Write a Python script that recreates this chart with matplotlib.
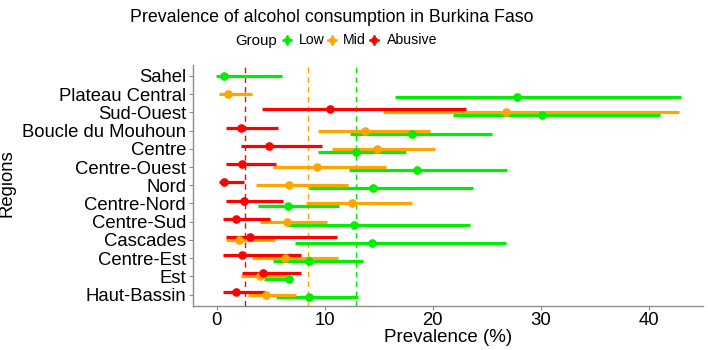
import matplotlib
matplotlib.use("Agg")
import matplotlib.pyplot as plt
from matplotlib.lines import Line2D
from matplotlib import font_manager as fm

regions = ["Sahel", "Plateau Central", "Sud-Ouest", "Boucle du Mouhoun", "Centre",
           "Centre-Ouest", "Nord", "Centre-Nord", "Centre-Sud", "Cascades",
           "Centre-Est", "Est", "Haut-Bassin"]

groups = ["Low", "Mid", "Abusive"]

low_est = [0.7, 27.8, 30.1, 18.1, 12.9, 18.5, 14.5, 6.6, 12.7, 14.4, 8.5, 6.7, 8.5]
low_lo  = [-0.1, 16.5, 21.9, 12.3, 9.4, 12.2, 8.5, 3.8, 6.5, 7.2, 5.2, 4.4, 5.5]
low_hi  = [6.0, 43.0, 41.0, 25.5, 17.5, 26.9, 23.7, 11.3, 23.4, 26.8, 13.5, 7.0, 13.1]

mid_est = [None, 1.0, 26.8, 13.7, 14.8, 9.3, 6.7, 12.5, 6.5, 2.1, 6.3, 4.0, 4.6]
mid_lo  = [None, 0.2, 15.4, 9.4, 10.7, 5.2, 3.6, 8.3, 4.0, 0.9, 3.3, 2.2, 2.9]
mid_hi  = [None, 3.3, 42.8, 19.7, 20.2, 15.7, 12.1, 18.1, 10.2, 5.4, 11.2, 6.5, 7.3]

abu_est = [None, None, 10.5, 2.2, 4.8, 2.3, 0.7, 2.5, 1.8, 3.1, 2.3, 4.3, 1.8]
abu_lo  = [None, None, 4.2, 0.9, 2.2, 0.9, 0.2, 0.9, 0.6, 0.9, 0.6, 2.3, 0.6]
abu_hi  = [None, None, 23.1, 5.7, 9.7, 5.5, 2.5, 6.1, 4.9, 11.1, 7.8, 7.8, 4.5]

ref_lines = {"Low": 12.87, "Mid": 8.4, "Abusive": 2.63}

colors = {"Low": "#00EE00", "Mid": "#FFA500", "Abusive": "#FF0000"}
offsets = {"Low": 0.16, "Mid": 0.0, "Abusive": -0.16}

data = {
    "Low": (low_est, low_lo, low_hi),
    "Mid": (mid_est, mid_lo, mid_hi),
    "Abusive": (abu_est, abu_lo, abu_hi),
}

avail = {f.name for f in fm.fontManager.ttflist}
base = "Liberation Sans" if "Liberation Sans" in avail else "DejaVu Sans"
plt.rcParams["font.family"] = base

fig = plt.figure(figsize=(7.08, 3.5), dpi=100)
ax = fig.add_axes([193/708, 1 - 305.5/350, (703-193)/708, (305.5-65)/350])

n = len(regions)

for g in groups:
    est, lo, hi = data[g]
    for i, r in enumerate(regions):
        if est[i] is None:
            continue
        present = sum(1 for gg in groups if data[gg][0][i] is not None)
        off = offsets[g] if present > 1 else 0.0
        y = i + off
        ax.plot([lo[i], hi[i]], [y, y], color=colors[g], lw=2.3, solid_capstyle="butt", zorder=2)
        ax.plot([est[i]], [y], "o", color=colors[g], ms=5.2, mec=colors[g], zorder=3)

for g in groups:
    ax.axvline(ref_lines[g], color=colors[g], lw=1.0, ls=(0, (4, 3)), zorder=1)

ax.set_ylim(n - 1 + 0.6, -0.6)
ax.set_xlim(-2.2, 45.0)
ax.set_yticks(range(n))
ax.set_yticklabels(regions)
ax.set_xticks([0, 10, 20, 30, 40])

for s in ["top", "right"]:
    ax.spines[s].set_visible(False)
for s in ["left", "bottom"]:
    ax.spines[s].set_color("#8c8c8c")
    ax.spines[s].set_linewidth(1.0)
ax.tick_params(axis="both", colors="#8c8c8c", length=3, width=0.8, labelcolor="black",
               labelsize=13.3)
ax.tick_params(axis="y", pad=2)
ax.tick_params(axis="x", pad=2)

ax.set_xlabel("Prevalence (%)", fontsize=13.5, labelpad=0)
ax.set_ylabel("Regions", fontsize=13.3)
ax.yaxis.set_label_coords(16/708, 1 - 183/350, transform=fig.transFigure)

fig.text(332/708, 1 - 17/350, "Prevalence of alcohol consumption in Burkina Faso",
         ha="center", va="center", fontsize=12.8)

fig.text(235.5/708, 1 - 41/350, "Group", ha="left", va="center", fontsize=10.8)
leg_items = [("Low", 287, 299.0), ("Mid", 331.5, 343.0), ("Abusive", 373.5, 386.5)]
for g, kx, tx in leg_items:
    fig.add_artist(Line2D([kx/708], [1 - 40/350], marker="o", color=colors[g], ms=4,
                          transform=fig.transFigure))
    fig.add_artist(Line2D([(kx-4)/708, (kx+4)/708], [1 - 40/350, 1 - 40/350],
                          color=colors[g], lw=1.8, transform=fig.transFigure))
    fig.add_artist(Line2D([kx/708, kx/708], [1 - 36/350, 1 - 44/350],
                          color=colors[g], lw=1.8, transform=fig.transFigure))
    fig.text(tx/708, 1 - 40.5/350, g, ha="left", va="center", fontsize=10.2)

fig.savefig("out.png", dpi=100)
